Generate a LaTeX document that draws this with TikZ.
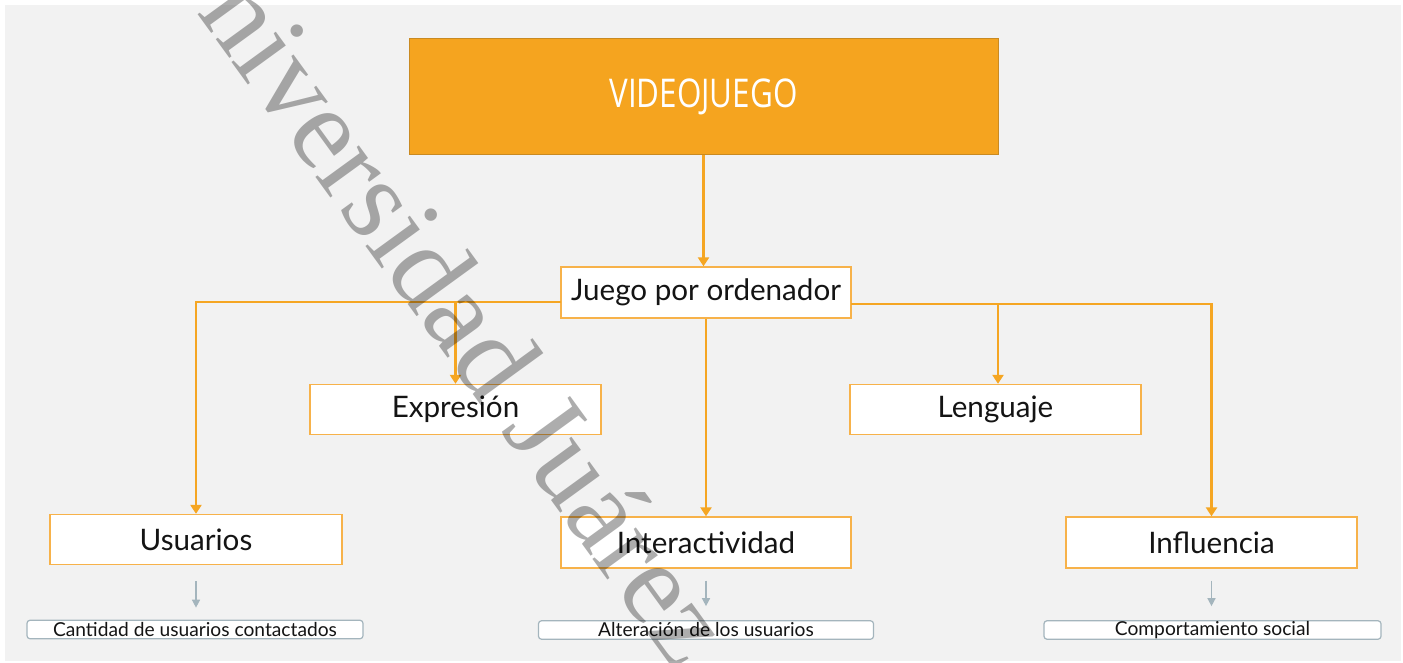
\documentclass[tikz,border=0pt]{standalone}
\usepackage{fontspec}
\setmainfont{Lato}
\newfontfamily\vjfont{Open Sans}
\newfontfamily\wmfont{Liberation Serif}
\usetikzlibrary{arrows.meta}
\definecolor{bgc}{HTML}{F2F2F2}
\definecolor{orfill}{HTML}{F5A41F}
\definecolor{ordark}{HTML}{C98A22}
\definecolor{orline}{HTML}{F5A623}
\definecolor{orbox}{HTML}{F7B24A}
\definecolor{grayarr}{HTML}{A4B5BD}
\definecolor{txt}{HTML}{141414}
\tikzset{
  topbox/.style={draw=ordark, line width=1pt, fill=orfill, text=white, minimum width=589pt, minimum height=116pt, inner sep=0pt, font=\vjfont\fontsize{33}{33}\selectfont},
  mainbox/.style={draw=orbox, line width=1.3pt, fill=white, text=txt, minimum width=291pt, minimum height=50pt, inner sep=0pt, font=\fontsize{29.6}{29.6}\selectfont},
  subbox/.style={draw=grayarr, line width=1.2pt, rounded corners=3pt, fill=white, text=txt, minimum height=18.5pt, inner sep=0pt, font=\fontsize{19.2}{19.2}\selectfont},
  orarr/.style={draw=orline, line width=2.8pt, -{Triangle[width=11pt,length=9pt]}},
  grarr/.style={draw=grayarr, line width=1.5pt, -{Triangle[width=8pt,length=8pt]}},
  wmark/.style={text=black, text opacity=0.32, font=\wmfont\fontsize{117}{117}\selectfont, rotate=-54, anchor=base west, inner sep=0pt}
}
\begin{document}
\begin{tikzpicture}[x=1pt,y=-1pt]
\useasboundingbox (0,0) rectangle (1403,663);
\clip (0,0) rectangle (1403,663);
\fill[bgc] (5,5) rectangle (1401,661);
% nodes
\node[topbox] (vj) at (703.5,97) {\scalebox{0.95}[1.2]{VIDEOJUEGO}};
\node[mainbox, minimum width=290pt, minimum height=51pt] (jpo) at (706,292.5) {Juego por ordenador};
\node[mainbox] (exp) at (455.5,409.5) {Expresión};
\node[mainbox] (len) at (995.5,409.5) {Lenguaje};
\node[mainbox, minimum width=292pt] (usu) at (196,539.5) {Usuarios};
\node[mainbox, minimum width=290pt, minimum height=51pt] (int) at (706,542.5) {Interactividad};
\node[mainbox, minimum height=51pt] (inf) at (1211.5,542.5) {Influencia};
\node[subbox, minimum width=336pt] (s1) at (195,629.5) {Cantidad de usuarios contactados};
\node[subbox, minimum width=335pt] (s2) at (706,630) {Alteración de los usuarios};
\node[subbox, minimum width=337pt] (s3) at (1212.5,630) {Comportamiento social};
% connectors
\coordinate (jl) at (561,302);
\coordinate (jr) at (851,304);
\draw[orarr] (vj.south) -- (vj.south |- jpo.north);
\draw[orarr] (jl) -| (usu.north);
\draw[orarr] (exp.north |- jl) -- (exp.north);
\draw[orarr] (jr) -| (inf.north);
\draw[orarr] ([xshift=2.5pt]len.north |- jr) -- ([xshift=2.5pt]len.north);
\draw[orarr] (jpo.south) -- (int.north);
\draw[grarr, shorten <=16pt, shorten >=12pt] (usu.south) -- (s1.north -| usu.south);
\draw[grarr, shorten <=12pt, shorten >=14pt] (int.south) -- (s2.north -| int.south);
\draw[grarr, shorten <=12pt, shorten >=14pt] (inf.south) -- (s3.north -| inf.south);
% watermark
\node[wmark] (wm) at (146.8,-55.5) {Universidad Juárez};
\end{tikzpicture}
\end{document}
